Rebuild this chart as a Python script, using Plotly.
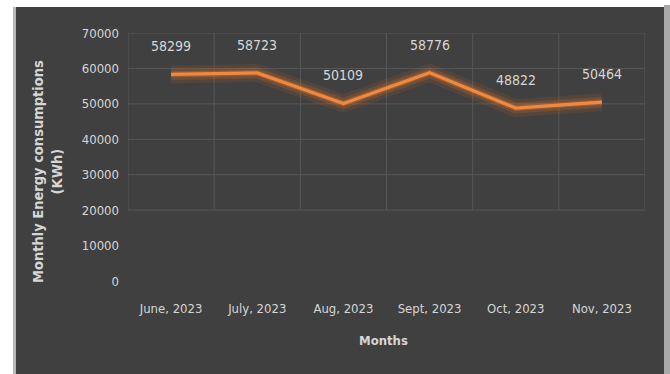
import plotly.graph_objects as go

# Monthly energy consumption data
months = ["June, 2023", "July, 2023", "Aug, 2023", "Sept, 2023", "Oct, 2023", "Nov, 2023"]
consumption = [58299, 58723, 50109, 58776, 48822, 50464]
y_ticks = [0, 10000, 20000, 30000, 40000, 50000, 60000, 70000]

FONT = "DejaVu Sans Condensed, Liberation Sans Narrow, sans-serif"
TXT = "#d6d6d6"
BG = "#404040"
ORANGE = "#f0883e"

W, H = 670, 374
ML, MR, MT, MB = 128, 25, 33, 93
PW, PH = W - ML - MR, H - MT - MB


def px_x(x):
    return (x - ML) / PW


def px_y(y):
    return 1 - (y - MT) / PH


fig = go.Figure()

# soft glow under the line
for width, alpha in [(18, 0.10), (11, 0.18), (6, 0.30)]:
    fig.add_trace(go.Scatter(
        x=months, y=consumption, mode="lines",
        line=dict(color=f"rgba(240,120,40,{alpha})", width=width),
        hoverinfo="skip", showlegend=False,
    ))

fig.add_trace(go.Scatter(
    x=months, y=consumption, mode="lines",
    line=dict(color=ORANGE, width=3.2),
    showlegend=False,
))

# value labels above each point
for m, v in zip(months, consumption):
    fig.add_annotation(
        x=m, y=v, text=str(v), showarrow=False, yshift=28,
        font=dict(family=FONT, size=14, color=TXT),
    )

shapes = [
    # white page around the dark chart panel
    dict(type="rect", xref="paper", yref="paper", layer="below",
         x0=px_x(-5), x1=px_x(W + 5), y0=px_y(H + 5), y1=px_y(-5),
         fillcolor="white", line_width=0),
    dict(type="rect", xref="paper", yref="paper", layer="below",
         x0=px_x(13), x1=px_x(16), y0=px_y(H + 5), y1=px_y(7),
         fillcolor="#b8b8b8", line_width=0),
    dict(type="rect", xref="paper", yref="paper", layer="below",
         x0=px_x(16), x1=px_x(664), y0=px_y(H + 5), y1=px_y(7),
         fillcolor=BG, line_width=0),
    dict(type="rect", xref="paper", yref="paper", layer="below",
         x0=px_x(664), x1=px_x(W + 5), y0=px_y(H + 5), y1=px_y(5),
         fillcolor="#a8a8a8", line_width=0),
]

# grid confined to the upper band of the chart
grid_col = "#575757"
for t in y_ticks:
    if t >= 20000:
        shapes.append(dict(type="line", xref="x", yref="y", layer="below",
                           x0=-0.5, x1=len(months) - 0.5, y0=t, y1=t,
                           line=dict(color=grid_col, width=1)))
for i in range(len(months) + 1):
    shapes.append(dict(type="line", xref="x", yref="y", layer="below",
                       x0=i - 0.5, x1=i - 0.5, y0=20000, y1=70000,
                       line=dict(color=grid_col, width=1)))

fig.add_annotation(
    xref="paper", yref="paper", x=px_x(47), y=px_y(172),
    xanchor="center", yanchor="middle",
    text="<b>Monthly Energy consumptions<br>(KWh)</b>", textangle=-90,
    showarrow=False, font=dict(family=FONT, size=14.5, color=TXT),
)
fig.add_annotation(
    xref="paper", yref="paper", x=px_x(383), y=px_y(340),
    xanchor="center", yanchor="middle",
    text="<b>Months</b>", showarrow=False,
    font=dict(family=FONT, size=13, color=TXT),
)

fig.update_layout(
    width=W, height=H,
    margin=dict(l=ML, r=MR, t=MT, b=MB),
    paper_bgcolor=BG, plot_bgcolor="rgba(0,0,0,0)",
    shapes=shapes,
    xaxis=dict(
        range=[-0.5, len(months) - 0.5], showgrid=False, zeroline=False,
        showline=False, ticks="", ticklabelstandoff=18,
        tickfont=dict(family=FONT, size=13, color=TXT),
    ),
    yaxis=dict(
        range=[0, 70000], tickvals=y_ticks, tickformat="d",
        showgrid=False, zeroline=False,
        showline=False, ticks="", ticklabelstandoff=8,
        tickfont=dict(family=FONT, size=13, color=TXT),
    ),
)

fig.write_html("out.html")
